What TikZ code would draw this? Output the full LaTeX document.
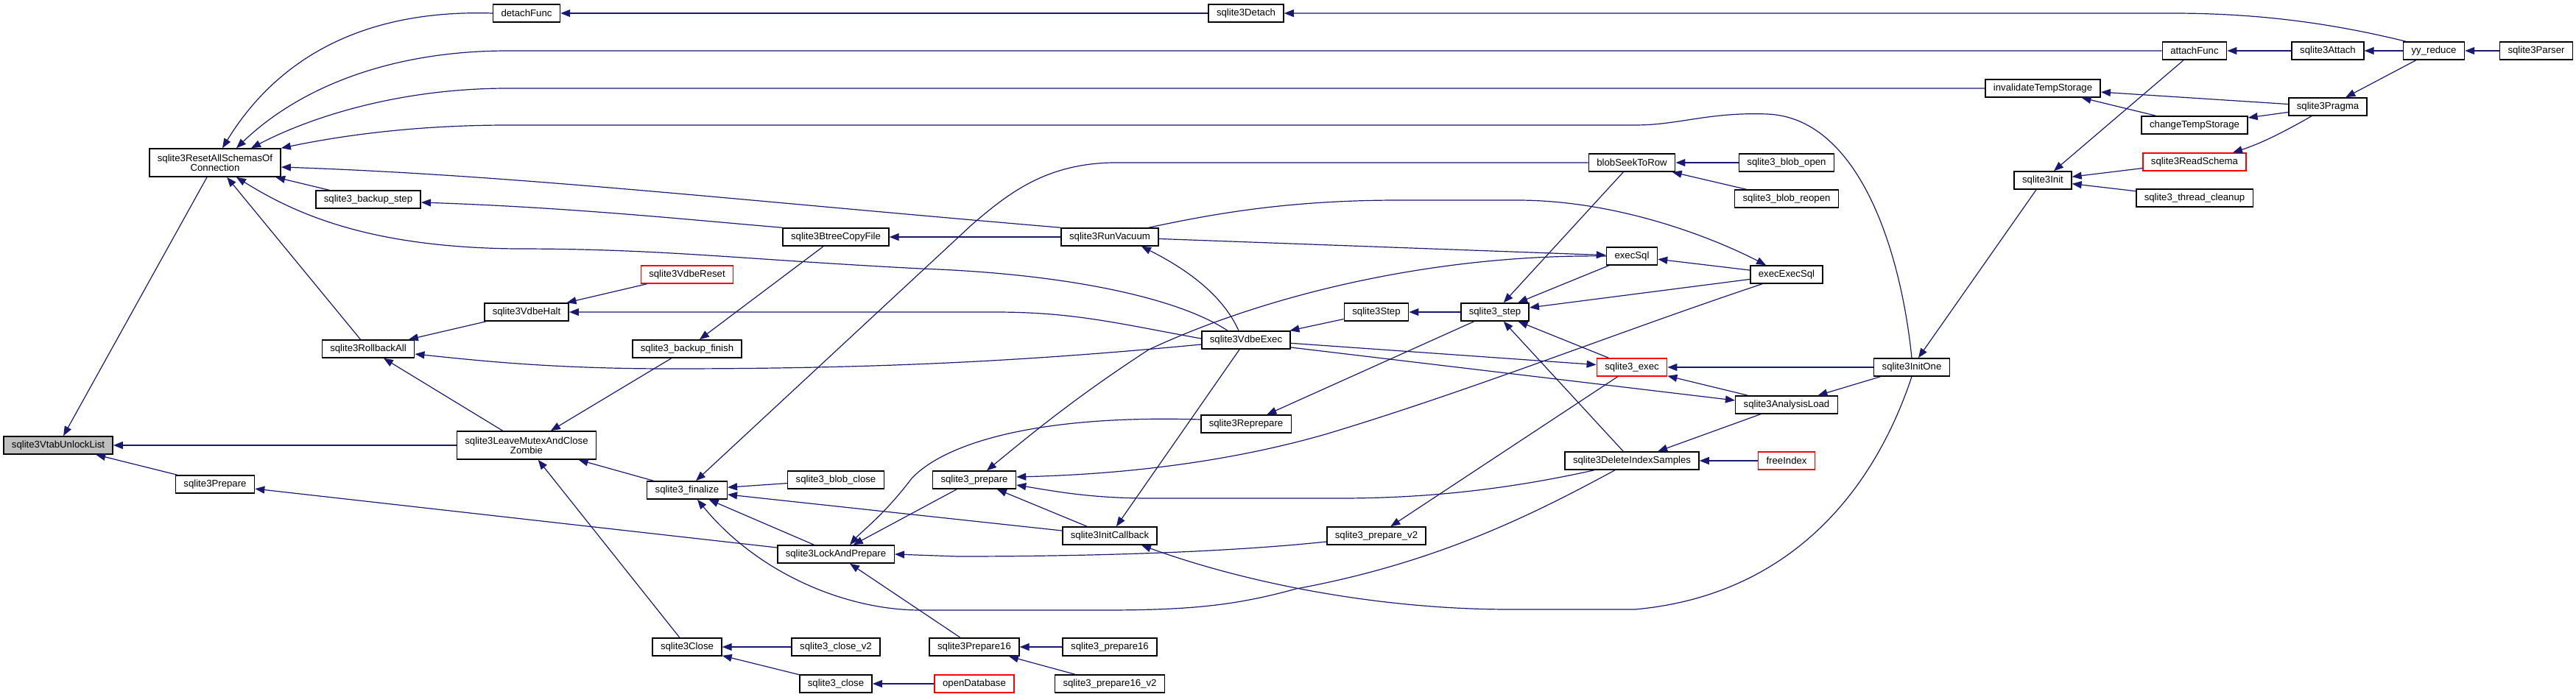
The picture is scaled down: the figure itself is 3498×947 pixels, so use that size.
\documentclass[tikz,border=0pt]{standalone}
\usepackage{fontspec}
\setmainfont{Liberation Sans}
\usetikzlibrary{arrows.meta, calc}
\definecolor{edgeblue}{HTML}{191970}
\definecolor{rootgray}{HTML}{BFBFBF}

\begin{document}
\begin{tikzpicture}[
    x=0.5pt, y=-0.5pt,
    func/.style={rectangle, draw=black, line width=0.75pt, fill=white, font=\fontsize{6.6}{6.4}\selectfont, align=center, inner xsep=5.5pt, inner ysep=1pt, minimum height=12pt},
    twoline/.style={minimum height=19pt},
    partial/.style={func, draw=red},
    root/.style={func, fill=rootgray},
    call/.style={-{Triangle[length=6.5pt,width=5pt]}, edgeblue, line width=0.6pt}
]
\useasboundingbox (0,0) rectangle (3498,947);

\node[root] (vtab) at (79,605) {sqlite3VtabUnlockList};
\node[func, twoline] (reset) at (292,221) {sqlite3ResetAllSchemasOf\\Connection};
\node[func] (prepare) at (292,658) {sqlite3Prepare};
\node[func] (backupstep) at (500,271) {sqlite3\_backup\_step};
\node[func] (rollback) at (500,474) {sqlite3RollbackAll};
\node[func] (detachfn) at (715,18) {detachFunc};
\node[func] (vdbehalt) at (715,424) {sqlite3VdbeHalt};
\node[func, twoline] (leave) at (715,605) {sqlite3LeaveMutexAndClose\\Zombie};
\node[partial] (vdbereset) at (933,373) {sqlite3VdbeReset};
\node[func] (backupfinish) at (933,474) {sqlite3\_backup\_finish};
\node[func] (finalize) at (933,666) {sqlite3\_finalize};
\node[func] (close) at (933,879) {sqlite3Close};
\node[func] (btreecopy) at (1135,322) {sqlite3BtreeCopyFile};
\node[func] (blobclose) at (1135,652) {sqlite3\_blob\_close};
\node[func] (lockprep) at (1135,753) {sqlite3LockAndPrepare};
\node[func] (closev2) at (1135,879) {sqlite3\_close\_v2};
\node[func] (apiclose) at (1135,929) {sqlite3\_close};
\node[func] (apiprep) at (1323,652) {sqlite3\_prepare};
\node[func] (prep16) at (1323,879) {sqlite3Prepare16};
\node[partial] (opendb) at (1323,929) {openDatabase};
\node[func] (vacuum) at (1507,322) {sqlite3RunVacuum};
\node[func] (initcb) at (1507,728) {sqlite3InitCallback};
\node[func] (apiprep16) at (1507,879) {sqlite3\_prepare16};
\node[func] (apiprep16v2) at (1507,929) {sqlite3\_prepare16\_v2};
\node[func] (detach) at (1692,18) {sqlite3Detach};
\node[func] (vdbeexec) at (1692,462) {sqlite3VdbeExec};
\node[func] (reprepare) at (1692,576) {sqlite3Reprepare};
\node[func] (vdbestep) at (1869,424) {sqlite3Step};
\node[func] (apiprepv2) at (1869,728) {sqlite3\_prepare\_v2};
\node[func] (apistep) at (2030,424) {sqlite3\_step};
\node[func] (blobseek) at (2216,221) {blobSeekToRow};
\node[func] (execsql) at (2216,348) {execSql};
\node[partial] (apiexec) at (2216,499) {sqlite3\_exec};
\node[func] (delsamples) at (2216,626) {sqlite3DeleteIndexSamples};
\node[func] (blobopen) at (2426,221) {sqlite3\_blob\_open};
\node[func] (blobreopen) at (2426,270) {sqlite3\_blob\_reopen};
\node[func] (execexec) at (2426,373) {execExecSql};
\node[func] (analysis) at (2426,550) {sqlite3AnalysisLoad};
\node[partial] (freeindex) at (2426,626) {freeIndex};
\node[func] (initone) at (2596,499) {sqlite3InitOne};
\node[func] (invalidate) at (2774,120) {invalidateTempStorage};
\node[func] (init) at (2774,245) {sqlite3Init};
\node[func] (attachfn) at (2980,69) {attachFunc};
\node[func] (changetemp) at (2980,170) {changeTempStorage};
\node[partial] (readschema) at (2980,220) {sqlite3ReadSchema};
\node[func] (cleanup) at (2980,269) {sqlite3\_thread\_cleanup};
\node[func] (attach) at (3161,69) {sqlite3Attach};
\node[func] (pragma) at (3161,145) {sqlite3Pragma};
\node[func] (yyreduce) at (3305,69) {yy\_reduce};
\node[func] (parser) at (3444,69) {sqlite3Parser};

\draw[call] (reset) -- (vtab);
\draw[call] (leave) -- (vtab);
\draw[call] (prepare) -- (vtab);

\draw[call] (detachfn.west) .. controls (480,12) and (370,90) .. ($(reset.north)+(10,0)$);
\draw[call] (attachfn.west) -- (690,69) .. controls (520,69) and (400,125) .. ($(reset.north)+(29,0)$);
\draw[call] (invalidate.west) -- (690,120) .. controls (540,120) and (420,160) .. ($(reset.north)+(49,0)$);
\draw[call] (initone.north) .. controls (2580,330) and (2520,160) .. (2400,155) .. controls (2320,152) and (2280,170) .. (2220,170) -- (690,170) .. controls (560,170) and (460,185) .. (reset.north east);
\draw[call] (vacuum.north west) .. controls (1000,272) and (700,238) .. ($(reset.east)+(0,6)$);
\draw[call] (backupstep) -- (reset);
\draw[call] ($(vdbeexec.north)+(-25,0)$) .. controls (1600,405) and (1450,372) .. (1250,365) .. controls (1000,352) and (900,338) .. (700,338) .. controls (500,336) and (400,290) .. ($(reset.south)+(29,0)$);
\draw[call] (rollback) -- (reset);

\draw[call] (vdbehalt) -- (rollback);
\draw[call] ($(vdbeexec.west)+(0,6)$) .. controls (1400,490) and (1200,501) .. (909,501) .. controls (750,501) and (650,490) .. ($(rollback.east)+(0,7)$);
\draw[call] (leave) -- (rollback);

\draw[call] (vdbereset) -- (vdbehalt);
\draw[call] ($(vdbeexec.west)+(0,-2)$) .. controls (1520,440) and (1460,424) .. (1351,424) -- (vdbehalt.east);

\draw[call] (backupfinish) -- (leave);
\draw[call] (finalize) -- (leave);
\draw[call] (close) -- (leave);

\draw[call] (btreecopy.north west) .. controls (950,300) and (780,282) .. ($(backupstep.east)+(0,4)$);
\draw[call] (btreecopy) -- (backupfinish);
\draw[call] (vacuum) -- (btreecopy);

\draw[call] (blobseek.west) -- (1510,221) .. controls (1420,223) and (1370,262) .. (1320,305) -- ($(finalize.north)+(12,0)$);
\draw[call] (blobclose) -- (finalize);
\draw[call] (initcb) -- (finalize);
\draw[call] (lockprep) -- (finalize);
\draw[call] ($(delsamples.south)+(-23,0)$) .. controls (2080,700) and (1950,765) .. (1760,800) .. controls (1680,822) and (1620,829) .. (1500,829) -- (1250,829) .. controls (1150,829) and (1030,780) .. ($(finalize.south)+(14,0)$);

\draw[call] (lockprep) -- (prepare);

\draw[call] ($(reprepare.west)+(0,-6)$) .. controls (1400,563) and (1280,605) .. (1238,650) .. controls (1200,700) and (1170,722) .. ($(lockprep.north)+(19,0)$);
\draw[call] (apiprep) -- (lockprep);
\draw[call] ($(apiprepv2.west)+(0,8)$) .. controls (1650,752) and (1450,756) .. (1300,756) -- (lockprep.east);
\draw[call] (prep16) -- (lockprep);

\draw[call] (execsql.west) .. controls (1950,345) and (1720,400) .. (1560,475) .. controls (1460,540) and (1400,590) .. ($(apiprep.north)+(17,0)$);
\draw[call] ($(execexec.south west)+(17,0)$) .. controls (2200,450) and (2000,530) .. (1800,590) .. controls (1650,633) and (1500,645) .. ($(apiprep.east)+(0,-4)$);
\draw[call] ($(delsamples.south)+(-51,0)$) .. controls (2060,662) and (1950,677) .. (1820,677) -- (1560,677) .. controls (1480,677) and (1430,667) .. ($(apiprep.east)+(0,7)$);
\draw[call] (initcb) -- (apiprep);

\draw[call] (vdbeexec) -- (initcb);
\draw[call] (initone.south) .. controls (2540,680) and (2420,810) .. (2220,828) -- (2050,828) .. controls (1880,828) and (1700,795) .. ($(initcb.south east)+(-22,0)$);

\draw[call] (apiexec) -- (apiprepv2);
\draw[call] (apiprep16) -- (prep16);
\draw[call] (apiprep16v2) -- (prep16);
\draw[call] (closev2) -- (close);
\draw[call] (apiclose) -- (close);
\draw[call] (opendb) -- (apiclose);

\draw[call] (vdbestep) -- (vdbeexec);
\draw[call] ($(vdbeexec.north)+(-10,0)$) .. controls (1660,400) and (1610,365) .. ($(vacuum.south)+(43,0)$);
\draw[call] (apistep) -- (vdbestep);
\draw[call] (apistep) -- (reprepare);

\draw[call] (vacuum) -- (execsql);
\draw[call] (execexec) -- (execsql);
\draw[call] ($(vacuum.north east)+(-14,0)$) .. controls (1650,290) and (1750,272) .. (1900,272) -- (2060,272) .. controls (2200,272) and (2330,325) .. ($(execexec.north west)+(22,0)$);

\draw[call] (blobseek) -- (apistep);
\draw[call] (execsql) -- (apistep);
\draw[call] (execexec) -- (apistep);
\draw[call] (delsamples) -- (apistep);
\draw[call] (apiexec) -- (apistep);

\draw[call] (vdbeexec) -- (apiexec);
\draw[call] (initone) -- (apiexec);
\draw[call] (analysis) -- (apiexec);

\draw[call] ($(vdbeexec.east)+(0,10)$) -- ($(analysis.west)+(0,-6)$);
\draw[call] (initone) -- (analysis);
\draw[call] (analysis) -- (delsamples);
\draw[call] (freeindex) -- (delsamples);

\draw[call] (init) -- (initone);
\draw[call] (attachfn) -- (init);
\draw[call] (readschema) -- (init);
\draw[call] (cleanup) -- (init);

\draw[call] (pragma) -- (invalidate);
\draw[call] (changetemp) -- (invalidate);
\draw[call] (pragma) -- (changetemp);
\draw[call] (yyreduce) -- (pragma);
\draw[call] ($(pragma.south)+(-22,0)$) .. controls (3100,180) and (3070,195) .. ($(readschema.north)+(52,0)$);

\draw[call] (attach) -- (attachfn);
\draw[call] (yyreduce) -- (attach);
\draw[call] (detach) -- (detachfn);
\draw[call] ($(yyreduce.north west)+(4,0)$) .. controls (3180,35) and (3080,18) .. (2950,18) -- (detach.east);
\draw[call] (parser) -- (yyreduce);
\draw[call] (blobopen) -- (blobseek);
\draw[call] (blobreopen) -- (blobseek);

\end{tikzpicture}
\end{document}
